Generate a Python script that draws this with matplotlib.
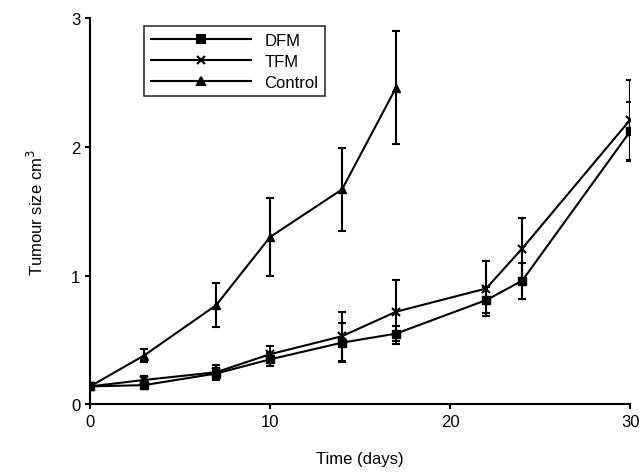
import matplotlib
matplotlib.use("Agg")
import matplotlib.pyplot as plt
from matplotlib.lines import Line2D

plt.rcParams["font.family"] = ["Liberation Sans", "DejaVu Sans"]

days = [0, 3, 7, 10, 14, 17, 22, 24, 30]
dfm = [0.14, 0.15, 0.24, 0.35, 0.48, 0.55, 0.81, 0.96, 2.12]
dfm_err = [0.0, 0.03, 0.04, 0.05, 0.15, 0.06, 0.10, 0.14, 0.23]
tfm = [0.14, 0.19, 0.25, 0.39, 0.53, 0.72, 0.90, 1.21, 2.21]
tfm_err = [0.0, 0.03, 0.06, 0.06, 0.19, 0.25, 0.21, 0.24, 0.31]
ctrl_days = [0, 3, 7, 10, 14, 17]
ctrl = [0.14, 0.38, 0.77, 1.30, 1.67, 2.46]
ctrl_err = [0.0, 0.05, 0.17, 0.30, 0.32, 0.44]

fig = plt.figure(figsize=(6.43, 4.77), dpi=100)
ax = fig.add_axes([0.14, 0.15, 0.84, 0.81])
kw = dict(color="black", lw=1.5, elinewidth=1.5, capsize=3, capthick=1.5, markersize=6)
ax.errorbar(days, dfm, yerr=dfm_err, marker="s", **kw)
ax.errorbar(days, tfm, yerr=tfm_err, marker="x", mew=1.5, **kw)
ax.errorbar(ctrl_days, ctrl, yerr=ctrl_err, marker="^", **kw)

handles = [Line2D([], [], color="black", lw=1.5, marker=m, markersize=6, mew=1.5)
           for m in ("s", "x", "^")]

ax.set_xlim(0, 30)
ax.set_ylim(0, 3)
ax.set_xticks([0, 10, 20, 30])
ax.set_yticks([0, 1, 2, 3])
ax.spines["top"].set_visible(False)
ax.spines["right"].set_visible(False)
for s in ("left", "bottom"):
    ax.spines[s].set_linewidth(1.5)
ax.tick_params(direction="out", width=1.5, labelsize=12)
ax.set_xlabel("Time (days)", fontsize=12, labelpad=16)
ax.set_ylabel("Tumour size cm$^3$", fontsize=12, labelpad=18)
leg = ax.legend(handles, ["DFM", "TFM", "Control"], loc="upper left",
                bbox_to_anchor=(0.085, 1.0), fancybox=False, edgecolor="black",
                fontsize=12, handlelength=6, borderpad=0.4, labelspacing=0.35)
leg.get_frame().set_linewidth(1.2)
fig.savefig("out.png")
